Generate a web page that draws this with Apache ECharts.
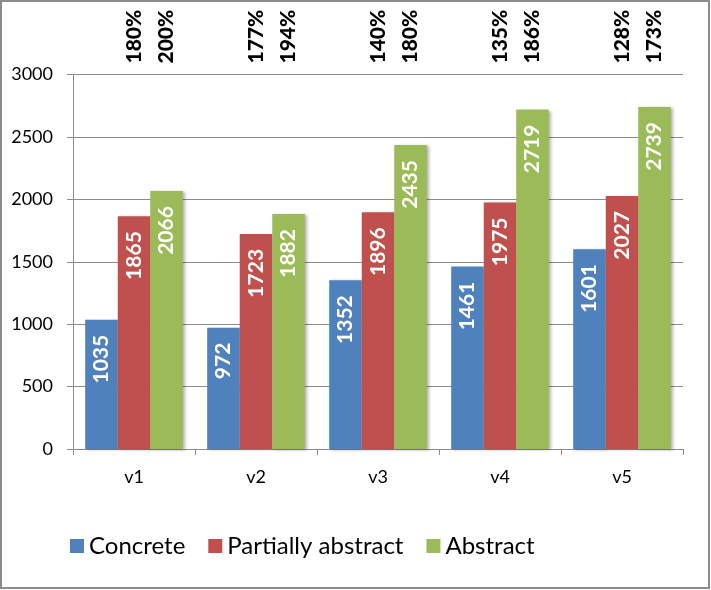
<!DOCTYPE html>
<html>
<head>
<meta charset="utf-8">
<script src="https://cdn.jsdelivr.net/npm/echarts@6/dist/echarts.min.js"></script>
<style>
html,body{margin:0;padding:0;background:#fff;}
#chart{width:711px;height:590px;}
</style>
</head>
<body>
<div id="chart"></div>
<script>
const categories = ['v1', 'v2', 'v3', 'v4', 'v5'];
const seriesNames = ['Concrete', 'Partially abstract', 'Abstract'];
const concrete = [1035, 972, 1352, 1461, 1601];
const partial = [1865, 1723, 1896, 1975, 2027];
const abstractV = [2066, 1882, 2435, 2719, 2739];
const partialPct = ['180%', '177%', '140%', '135%', '128%'];
const abstractPct = ['200%', '194%', '180%', '186%', '173%'];
const yMin = 0, yMax = 3000, yInterval = 500;

const FONT = 'Lato';
const colors = ['#4F81BD', '#C0504D', '#9BBB59'];
const gap = '20%';

const chart = echarts.init(document.getElementById('chart'), null, {renderer: 'canvas'});

function mainBar(name, data, color) {
  return {
    name: name, type: 'bar', data: data, xAxisIndex: 0,
    barGap: '0%', barCategoryGap: gap,
    itemStyle: {color: color, shadowColor: 'rgba(0,0,0,0.3)', shadowBlur: 3, shadowOffsetX: 2, shadowOffsetY: 1},
    label: {
      show: true, position: 'insideTop', distance: 15, rotate: 90,
      align: 'right', verticalAlign: 'middle',
      color: '#fff', fontFamily: FONT, fontWeight: 'bold', fontSize: 21
    },
    emphasis: {disabled: true}
  };
}

function pctBar(labels) {
  return {
    type: 'bar', xAxisIndex: 1, silent: true,
    barGap: '0%', barCategoryGap: gap,
    data: categories.map(() => yMax),
    itemStyle: {color: 'rgba(0,0,0,0)'},
    label: {
      show: labels !== null, position: 'top', distance: 11, rotate: 90,
      align: 'left', verticalAlign: 'middle',
      color: '#000', fontFamily: FONT, fontWeight: 900, fontSize: 21,
      formatter: p => labels ? labels[p.dataIndex] : ''
    },
    emphasis: {disabled: true}, tooltip: {show: false}
  };
}

chart.setOption({
  animation: false,
  textStyle: {fontFamily: FONT},
  grid: {left: 73, right: 28, top: 74.5, bottom: 141, containLabel: false},
  legend: {
    data: seriesNames, left: 65, top: 529, itemWidth: 14, itemHeight: 14, itemGap: 23,
    icon: 'rect',
    textStyle: {fontFamily: FONT, fontSize: 24, color: '#000', padding: [0, 0, 0, 0]}
  },
  xAxis: [
    {
      type: 'category', data: categories,
      axisLine: {lineStyle: {color: '#8c8c8c', width: 1}},
      axisTick: {show: true, length: 6, lineStyle: {color: '#8c8c8c'}},
      axisLabel: {color: '#000', fontSize: 18, fontFamily: FONT, margin: 19}
    },
    {type: 'category', data: categories, show: false}
  ],
  yAxis: {
    type: 'value', min: yMin, max: yMax, interval: yInterval,
    axisLine: {show: true, lineStyle: {color: '#8c8c8c', width: 1}},
    axisTick: {show: true, length: 6, lineStyle: {color: '#8c8c8c'}},
    splitLine: {lineStyle: {color: '#8c8c8c', width: 1}},
    axisLabel: {color: '#000', fontSize: 18, fontFamily: FONT, margin: 20, formatter: v => String(v)}
  },
  series: [
    mainBar(seriesNames[0], concrete, colors[0]),
    mainBar(seriesNames[1], partial, colors[1]),
    mainBar(seriesNames[2], abstractV, colors[2]),
    pctBar(null),
    pctBar(partialPct),
    pctBar(abstractPct)
  ],
  graphic: [{
    type: 'rect', silent: true,
    shape: {x: 1, y: 1, width: 708, height: 587},
    style: {fill: 'none', stroke: '#8c8c8c', lineWidth: 2}
  }]
});
</script>
</body>
</html>
